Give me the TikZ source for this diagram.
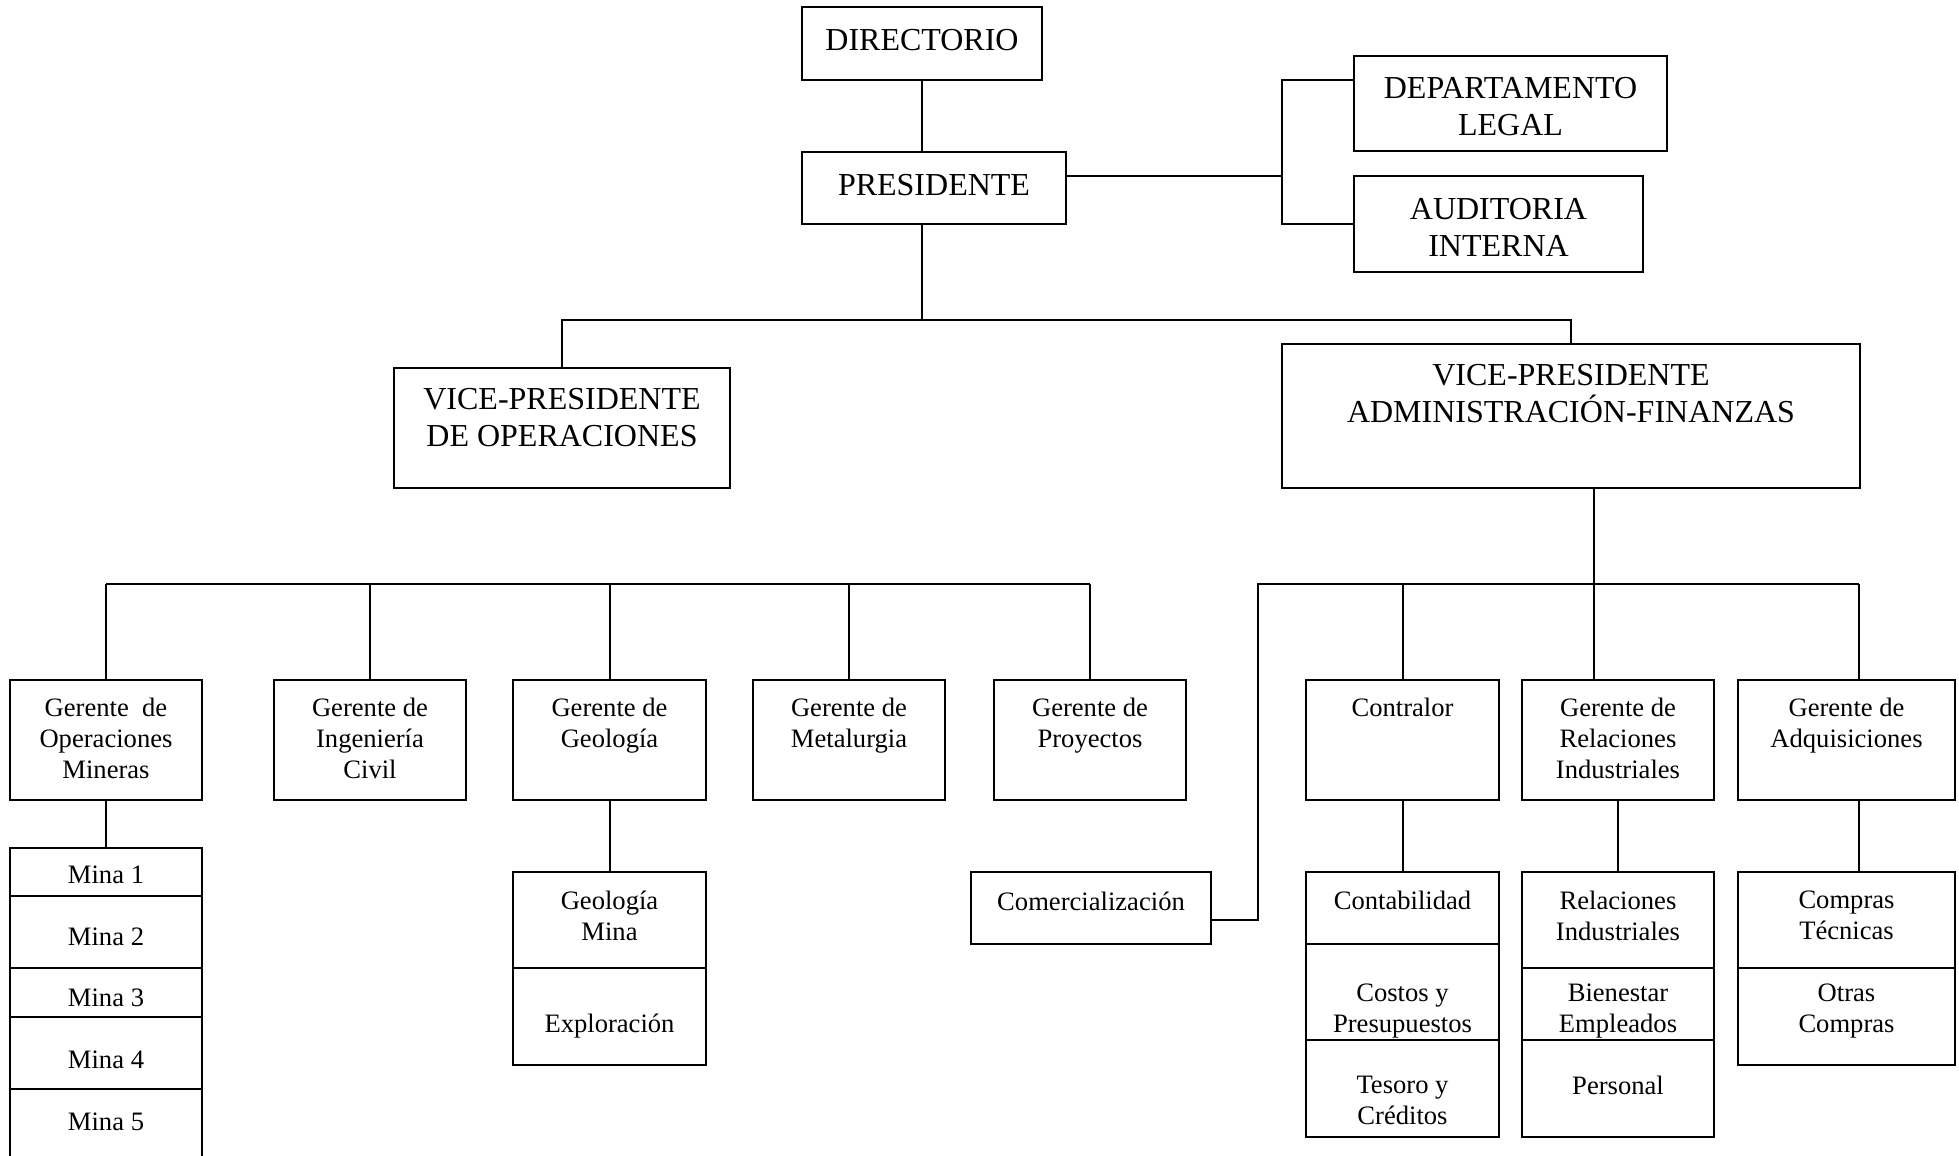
\documentclass[tikz,border=0pt]{standalone}
\usepackage{fontspec}
\setmainfont{Liberation Serif}
\usepackage{tikz}
\usetikzlibrary{positioning}

\begin{document}
\begin{tikzpicture}[x=0.5pt, y=-0.5pt, line width=1pt,
    box/.style={draw, inner sep=0pt, outer sep=0pt, anchor=north west},
    gbox/.style={box, minimum width=96pt, minimum height=60pt},
    big/.style={inner sep=0pt, align=center, font=\fontsize{16}{18.75}\selectfont},
    small/.style={inner sep=0pt, align=center, font=\fontsize{13.3}{15.5}\selectfont}]
    \useasboundingbox (0,0) rectangle (1959,1156);
    \clip (0,0) rectangle (1959,1156);

    % direccion
    \node[box, minimum width=120pt, minimum height=36.25pt] (dir) at (802,7.5) {};
    \node[big, below=10.5pt of dir.north] (dirT) {DIRECTORIO};
    \node[box, minimum width=132pt, minimum height=36pt] (pres) at (802,152) {};
    \node[big, below=10.5pt of pres.north] (presT) {PRESIDENTE};
    \node[box, minimum width=156.5pt, minimum height=47.5pt] (legal) at (1354,56) {};
    \node[big, below=10pt of legal.north] (legalT) {DEPARTAMENTO\\LEGAL};
    \node[box, minimum width=144.5pt, minimum height=48pt] (audit) at (1354,176) {};
    \node[big, below=10.5pt of audit.north] (auditT) {AUDITORIA\\INTERNA};

    \node[box, minimum width=168pt, minimum height=60pt] (vpops) at (394,368) {};
    \node[big, below=9.5pt of vpops.north] (vpopsT) {VICE-PRESIDENTE\\DE OPERACIONES};
    \node[box, minimum width=289pt, minimum height=72pt] (vpadm) at (1282,344) {};
    \node[big, below=9.5pt of vpadm.north] (vpadmT) {VICE-PRESIDENTE\\ADMINISTRACIÓN-FINANZAS};

    % gerencias
    \node[gbox] (opmin) at (10,680) {};
    \node[small, below=8.5pt of opmin.north] (opminT) {Gerente~ de\\Operaciones\\Mineras};
    \node[gbox] (ingciv) at (274,680) {};
    \node[small, below=8.5pt of ingciv.north] (ingcivT) {Gerente de\\Ingeniería\\Civil};
    \node[gbox, minimum width=96.5pt] (geo) at (513,680) {};
    \node[small, below=8.5pt of geo.north] (geoT) {Gerente de\\Geología};
    \node[gbox] (metal) at (753,680) {};
    \node[small, below=8.5pt of metal.north] (metalT) {Gerente de\\Metalurgia};
    \node[gbox] (proy) at (994,680) {};
    \node[small, below=8.5pt of proy.north] (proyT) {Gerente de\\Proyectos};
    \node[gbox, minimum width=96.5pt] (contr) at (1306,680) {};
    \node[small, below=8.5pt of contr.north] (contrT) {Contralor};
    \node[gbox] (relind) at (1522,680) {};
    \node[small, below=8.5pt of relind.north] (relindT) {Gerente de\\Relaciones\\Industriales};
    \node[gbox, minimum width=108.5pt] (adq) at (1738,680) {};
    \node[small, below=8.5pt of adq.north] (adqT) {Gerente de\\Adquisiciones};

    % minas
    \node[box, minimum width=96pt, minimum height=24pt] (mina1) at (10,848) {};
    \node[small, below=8.5pt of mina1.north] (mina1T) {Mina 1};
    \node[box, minimum width=96pt, minimum height=36pt] (mina2) at (10,896) {};
    \node[small, below=15.5pt of mina2.north] (mina2T) {Mina 2};
    \node[box, minimum width=96pt, minimum height=24.5pt] (mina3) at (10,968) {};
    \node[small, below=10pt of mina3.north] (mina3T) {Mina 3};
    \node[box, minimum width=96pt, minimum height=36pt] (mina4) at (10,1017) {};
    \node[small, below=16.5pt of mina4.north] (mina4T) {Mina 4};
    \node[box, minimum width=96pt, minimum height=45pt] (mina5) at (10,1089) {};
    \node[small, below=11.5pt of mina5.north] (mina5T) {Mina 5};

    % geologia
    \node[box, minimum width=96.5pt, minimum height=48pt] (geom) at (513,872) {};
    \node[small, below=9pt of geom.north] (geomT) {Geología\\Mina};
    \node[box, minimum width=96.5pt, minimum height=48.5pt] (explo) at (513,968) {};
    \node[small, below=22.5pt of explo.north] (exploT) {Exploración};

    \node[box, minimum width=120pt, minimum height=36pt] (comer) at (971,872) {};
    \node[small, below=9.5pt of comer.north] (comerT) {Comercialización};

    % contraloria
    \node[box, minimum width=96.5pt, minimum height=36pt] (conta) at (1306,872) {};
    \node[small, below=9pt of conta.north] (contaT) {Contabilidad};
    \node[box, minimum width=96.5pt, minimum height=48pt] (costos) at (1306,944) {};
    \node[small, below=19.5pt of costos.north] (costosT) {Costos y\\Presupuestos};
    \node[box, minimum width=96.5pt, minimum height=48.5pt] (tesoro) at (1306,1040) {};
    \node[small, below=17.5pt of tesoro.north] (tesoroT) {Tesoro y\\Créditos};

    % relaciones industriales
    \node[box, minimum width=96pt, minimum height=48pt] (relrel) at (1522,872) {};
    \node[small, below=9pt of relrel.north] (relrelT) {Relaciones\\Industriales};
    \node[box, minimum width=96pt, minimum height=36pt] (bien) at (1522,968) {};
    \node[small, below=7.5pt of bien.north] (bienT) {Bienestar\\Empleados};
    \node[box, minimum width=96pt, minimum height=48.5pt] (pers) at (1522,1040) {};
    \node[small, below=17.5pt of pers.north] (persT) {Personal};

    % adquisiciones
    \node[box, minimum width=108.5pt, minimum height=48pt] (compt) at (1738,872) {};
    \node[small, below=9pt of compt.north] (comptT) {Compras\\Técnicas};
    \node[box, minimum width=108.5pt, minimum height=48.5pt] (otras) at (1738,968) {};
    \node[small, below=7.5pt of otras.north] (otrasT) {Otras\\Compras};

    % lineas
    \coordinate (busTop) at (922,320);
    \coordinate (sideJ) at (1282,176);
    \coordinate (busL) at (0,584);
    \coordinate (busR) at (1594,584);
    \coordinate (busRend) at (1859,584);
    \coordinate (comJ) at (1258,584);

    \draw (dir.south) -- (dir.south |- pres.north);
    \draw (dir.south |- pres.south) -- (busTop);
    \draw (vpops.north) |- (busTop) -| (vpadm.north);
    \draw ([yshift=6pt]pres.east) -- (sideJ);
    \draw ([yshift=-12pt]legal.north west) -| (sideJ |- audit.west) -- (audit.west);

    \draw (opmin.north |- busL) -- (proy.north |- busL);
    \foreach \g in {opmin, ingciv, geo, metal, proy}
        \draw (\g.north) -- (\g.north |- busL);

    \draw (busR |- vpadm.south) -- (busR);
    \draw ([yshift=-6pt]comer.east) -| (comJ) -- (busRend);
    \draw (contr.north) -- (contr.north |- busR);
    \draw (busR) -- (busR |- relind.north);
    \draw (busRend) -- (busRend |- adq.north);

    \draw (opmin.south) -- (mina1.north);
    \draw (geo.south) -- (geom.north);
    \draw (contr.south) -- (conta.north);
    \draw (relind.south) -- (relrel.north);
    \draw (busRend |- adq.south) -- (busRend |- compt.north);
\end{tikzpicture}
\end{document}
